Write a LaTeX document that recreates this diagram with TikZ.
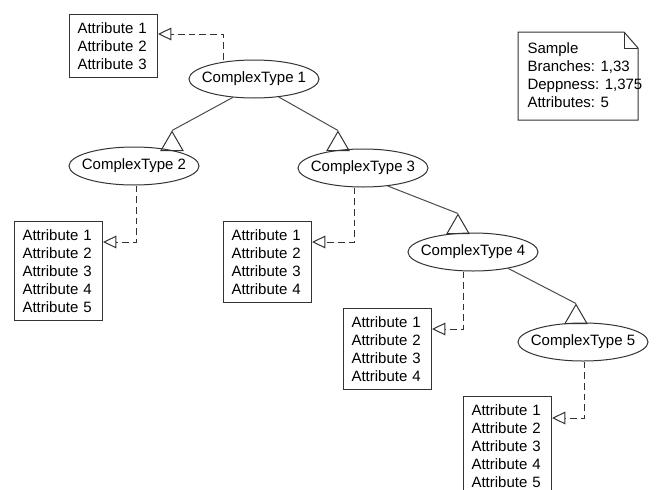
\documentclass[tikz,border=0pt]{standalone}
\usepackage{fontspec}
\setmainfont{Liberation Sans}
\usetikzlibrary{arrows.meta, shapes.geometric}
\newcommand{\px}{0.75pt}

\begin{document}
\begin{tikzpicture}[
  x=0.75pt, y=-0.75pt, line width=0.75pt,
  font=\fontsize{11.25pt}{13.5pt}\selectfont,
  ctype/.style={draw=black!80, ellipse, minimum width=97.5pt, minimum height=28.5pt,
                inner xsep=-8pt, inner ysep=0pt},
  attr/.style={draw=black!80, anchor=north west, text width=54pt, align=left,
               inner xsep=6pt, inner ysep=0pt},
  gen/.style={draw=black!80, regular polygon, regular polygon sides=3,
              minimum size=19pt, inner sep=0pt},
  dep/.style={draw=black!80, dash pattern=on 5pt off 3pt,
              -{Triangle[open, length=10pt, width=9.5pt]}},
  inh/.style={draw=black!70},
]
\fill[white] (0,0) rectangle (656,489);
\useasboundingbox (0,0) rectangle (656,489);
\clip (0,0) rectangle (656,489);

\node[ctype] (ct1) at (254,79) {ComplexType 1};
\node[ctype] (ct2) at (134,166) {ComplexType 2};
\node[ctype] (ct3) at (363,168) {ComplexType 3};
\node[ctype] (ct4) at (473,252) {ComplexType 4};
\node[ctype] (ct5) at (583,342) {ComplexType 5};

\node[attr, minimum height=47.25pt] (attA) at (69,14) {Attribute 1\\Attribute 2\\Attribute 3};
\node[attr, minimum height=74.25pt] (attB) at (14,221) {Attribute 1\\Attribute 2\\Attribute 3\\Attribute 4\\Attribute 5};
\node[attr, minimum height=60.75pt] (attC) at (223,221) {Attribute 1\\Attribute 2\\Attribute 3\\Attribute 4};
\node[attr, minimum height=60.75pt] (attD) at (343,308) {Attribute 1\\Attribute 2\\Attribute 3\\Attribute 4};
\node[attr, minimum height=74.25pt] (attE) at (463,396) {Attribute 1\\Attribute 2\\Attribute 3\\Attribute 4\\Attribute 5};

\node[gen, anchor=south] (g2) at (172,151) {};
\node[gen, anchor=south] (g3) at (338,151) {};
\node[gen, anchor=south] (g4) at (458,234) {};
\node[gen, anchor=south] (g5) at (576,324) {};

\draw[inh] (ct1.-139) -- (g2.corner 1);
\draw[inh] (ct1.-36) -- (g3.corner 1);
\draw[inh] (ct3.-36) -- (g4.corner 1);
\draw[inh] (ct4.-25) -- (g5.corner 1);

\draw[dep] ([xshift=-31*\px]ct1.north) |- ([yshift=-20*\px]attA.north east);
\draw[dep] ([xshift=2*\px]ct2.south) |- ([yshift=-21*\px]attB.north east);
\draw[dep] ([xshift=-9*\px]ct3.south) |- ([yshift=-21*\px]attC.north east);
\draw[dep] ([xshift=-10*\px]ct4.south) |- ([yshift=-21*\px]attD.north east);
\draw[dep] ([xshift=1*\px]ct5.south) |- ([yshift=-22*\px]attE.north east);

\draw[draw=black!80] (518,32) -- (624,32) -- (638,48) -- (638,120) -- (518,120) -- cycle;
\draw[draw=black!80] (624,32) |- (638,48);
\node[anchor=north west, align=left, inner sep=0pt] (sample) at (527,42)
  {Sample\\Branches: 1,33\\Deppness: 1,375\\Attributes: 5};
\end{tikzpicture}
\end{document}
